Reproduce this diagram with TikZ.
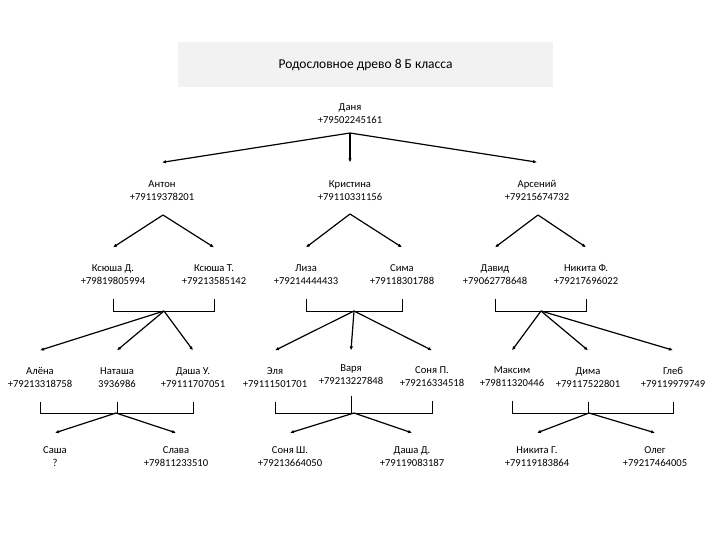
\documentclass[tikz,border=0pt]{standalone}
\usepackage{fontspec}
\setmainfont{Carlito}
\usetikzlibrary{arrows.meta,calc}

\tikzset{
  person/.style={align=center, inner sep=0pt, font=\fontsize{10.6}{13}\selectfont},
  kid/.style={line width=1.2pt, -{Latex[length=4pt,width=3.5pt]}},
  couple/.style={line width=0.7pt},
}

\begin{document}
\begin{tikzpicture}[x=1pt,y=-1pt]
\useasboundingbox (0,0) rectangle (720,540);
\node [fill=black!5, minimum width=375pt, minimum height=45pt, font=\fontsize{13.5}{16}\selectfont] (title) at (365.5,64.5) {Родословное древо 8 Б класса};

% people
\node [person] (danya) at (350,113.5) {Даня\\+79502245161};
\node [person] (anton) at (162,190.5) {Антон\\+79119378201};
\node [person] (kristina) at (350,190.5) {Кристина\\+79110331156};
\node [person] (arseny) at (537,190.5) {Арсений\\+79215674732};
\node [person] (ksd) at (113,274.5) {Ксюша Д.\\+79819805994};
\node [person] (kst) at (214,274.5) {Ксюша Т.\\+79213585142};
\node [person] (liza) at (306,274.5) {Лиза\\+79214444433};
\node [person] (sima) at (402,274.5) {Сима\\+79118301788};
\node [person] (david) at (495,274.5) {Давид\\+79062778648};
\node [person] (nikitaf) at (586,274.5) {Никита Ф.\\+79217696022};
\node [person] (alena) at (40,377.5) {Алёна\\+79213318758};
\node [person] (natasha) at (117,377.5) {Наташа\\3936986};
\node [person] (dashau) at (193,377.5) {Даша У.\\+79111707051};
\node [person] (elya) at (275,377.5) {Эля\\+79111501701};
\node [person] (varya) at (351,374.5) {Варя\\+79213227848};
\node [person] (sonyap) at (432,376.5) {Соня П.\\+79216334518};
\node [person] (maksim) at (512,376.5) {Максим\\+79811320446};
\node [person] (dima) at (588,377.5) {Дима\\+79117522801};
\node [person] (gleb) at (673,377.5) {Глеб\\+79119979749};
\node [person] (sasha) at (55,457) {Саша\\?};
\node [person] (slava) at (176,457) {Слава\\+79811233510};
\node [person] (sonyash) at (290,457) {Соня Ш.\\+79213664050};
\node [person] (dashad) at (412,457) {Даша Д.\\+79119083187};
\node [person] (nikitag) at (537,457) {Никита Г.\\+79119183864};
\node [person] (oleg) at (655,457) {Олег\\+79217464005};

% forks
\coordinate (danya-f) at (350,133);
\coordinate (anton-f) at (163,215);
\coordinate (kristina-f) at (350,214);
\coordinate (arseny-f) at (538,215);
\coordinate (ks-f) at (164,311);
\coordinate (ls-f) at (354,311);
\coordinate (dn-f) at (541,311);
\coordinate (and-f) at (116,413);
\coordinate (evs-f) at (354,413);
\coordinate (mdg-f) at (589,413);

% couples
\draw [couple] ([yshift=-14pt]ksd.south) -- (ksd |- ks-f) -- (kst |- ks-f) -- ([yshift=-14pt]kst.south);
\draw [couple] ([yshift=-14pt]liza.south) -- (liza |- ls-f) -- (sima |- ls-f) -- ([yshift=-14pt]sima.south);
\draw [couple] ([yshift=-14pt]david.south) -- (david |- dn-f) -- (nikitaf |- dn-f) -- ([yshift=-14pt]nikitaf.south);
\draw [couple] ([yshift=-14pt]alena.south) -- (alena |- and-f) -- (dashau |- and-f) -- ([yshift=-14pt]dashau.south);
\draw [couple] ([yshift=-14pt]natasha.south) -- (natasha |- and-f);
\draw [couple] ([yshift=-14pt]elya.south) -- (elya |- evs-f) -- (sonyap |- evs-f) -- ([yshift=-14pt]sonyap.south);
\draw [couple] ([yshift=-11pt]varya.south) -- (varya |- evs-f);
\draw [couple] ([yshift=-14pt]maksim.south) -- (maksim |- mdg-f) -- (gleb |- mdg-f) -- ([yshift=-14pt]gleb.south);
\draw [couple] ([yshift=-14pt]dima.south) -- (dima |- mdg-f);

% children
\draw [kid] (danya-f) -- ([yshift=18pt]anton.north);
\draw [kid] (danya-f) -- ([yshift=18pt]kristina.north);
\draw [kid] (danya-f) -- ([yshift=18pt]arseny.north);
\draw [kid] (anton-f) -- ([yshift=17pt]ksd.north);
\draw [kid] (anton-f) -- ([yshift=17pt]kst.north);
\draw [kid] (kristina-f) -- ([yshift=17pt]liza.north);
\draw [kid] (kristina-f) -- ([yshift=17pt]sima.north);
\draw [kid] (arseny-f) -- ([yshift=17pt]david.north);
\draw [kid] (arseny-f) -- ([yshift=17pt]nikitaf.north);
\draw [kid] (ks-f) -- ([yshift=17pt]alena.north);
\draw [kid] (ks-f) -- ([yshift=17pt]natasha.north);
\draw [kid] (ks-f) -- ([yshift=17pt]dashau.north);
\draw [kid] (ls-f) -- ([yshift=17pt]elya.north);
\draw [kid] (ls-f) -- ([yshift=14pt]varya.north);
\draw [kid] (ls-f) -- ([yshift=16pt]sonyap.north);
\draw [kid] (dn-f) -- ([yshift=16pt]maksim.north);
\draw [kid] (dn-f) -- ([yshift=17pt]dima.north);
\draw [kid] (dn-f) -- ([yshift=17pt]gleb.north);
\draw [kid] (and-f) -- ([yshift=14pt]sasha.north);
\draw [kid] (and-f) -- ([yshift=14pt]slava.north);
\draw [kid] (evs-f) -- ([yshift=14pt]sonyash.north);
\draw [kid] (evs-f) -- ([yshift=14pt]dashad.north);
\draw [kid] (mdg-f) -- ([yshift=14pt]nikitag.north);
\draw [kid] (mdg-f) -- ([yshift=14pt]oleg.north);
\end{tikzpicture}
\end{document}
